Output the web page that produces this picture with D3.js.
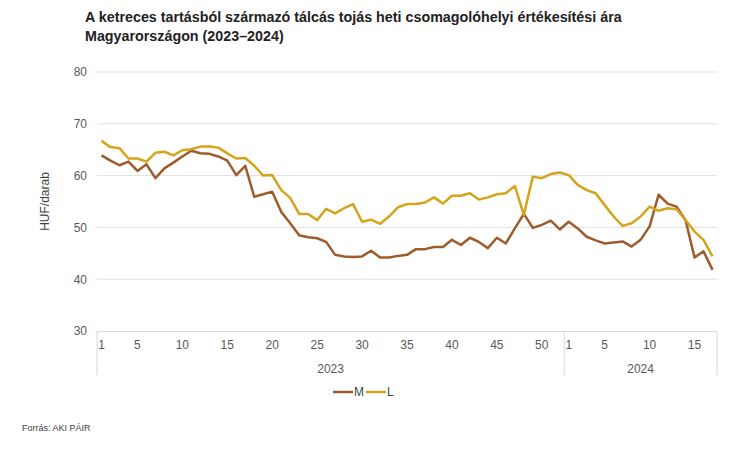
<!DOCTYPE html>
<html>
<head>
<meta charset="utf-8">
<script src="https://d3js.org/d3.v7.min.js"></script>
<style>
  body { margin: 0; background: #fff; }
  text { font-family: "Liberation Sans", Arial, sans-serif; }
</style>
</head>
<body>
<div id="chart"></div>
<script>

// weeks: 2023 has 52, 2024 shown up to week 17
var weeks2023 = d3.range(1, 53)
var weeks2024 = d3.range(1, 18)
var years = ["2023", "2024"]
var yTicks = [30, 40, 50, 60, 70, 80]
var weekTicks = [1, 5, 10, 15, 20, 25, 30, 35, 40, 45, 50]

// M size eggs (HUF/darab)
var valuesM = [
  63.9, 62.9, 62.0, 62.7, 60.9, 62.2, 59.5, 61.4, 62.5, 63.7,
  64.8, 64.3, 64.2, 63.7, 62.9, 60.1, 61.9, 55.9, 56.4, 56.9,
  53.0, 50.8, 48.5, 48.1, 47.9, 47.2, 44.7, 44.4, 44.3, 44.4,
  45.5, 44.2, 44.2, 44.5, 44.7, 45.8, 45.8, 46.2, 46.2, 47.6,
  46.6, 48.0, 47.2, 46.0, 48.0, 46.9, 49.8, 52.6, 49.9, 50.5,
  51.3, 49.6,
  51.1, 49.8, 48.2, 47.5, 46.9, 47.1, 47.3, 46.3, 47.6, 50.2,
  56.3, 54.6, 54.0, 51.4, 44.2, 45.4, 41.8
]

// L size eggs (HUF/darab)
var valuesL = [
  66.7, 65.5, 65.3, 63.3, 63.3, 62.7, 64.4, 64.6, 63.9, 64.9,
  65.1, 65.6, 65.6, 65.4, 64.3, 63.3, 63.4, 61.9, 60.0, 60.1,
  57.2, 55.7, 52.6, 52.6, 51.4, 53.6, 52.7, 53.7, 54.5, 51.1,
  51.5, 50.7, 52.1, 53.9, 54.5, 54.5, 54.8, 55.8, 54.6, 56.1,
  56.1, 56.6, 55.4, 55.8, 56.4, 56.6, 58.0, 52.4, 59.8, 59.5,
  60.3, 60.6,
  60.1, 58.2, 57.2, 56.6, 54.3, 52.1, 50.3, 50.8, 52.1, 54.0,
  53.2, 53.7, 53.5, 51.4, 49.2, 47.6, 44.4
]

var colorM = "#9e5c2c"
var colorL = "#d4a41c"

var width = 750, height = 457
var plot = {left: 97, right: 717, top: 72, bottom: 331}

var keys = weeks2023.map(function(w) { return "2023-" + w; })
  .concat(weeks2024.map(function(w) { return "2024-" + w; }))

var svg = d3.select("#chart")
  .append("svg")
    .attr("width", width)
    .attr("height", height)

// title
svg.append("text")
    .attr("x", 85).attr("y", 22)
    .style("font-size", "14.3px").style("font-weight", "bold").attr("fill", "#222")
    .text("A ketreces tartásból származó tálcás tojás heti csomagolóhelyi értékesítési ára")
svg.append("text")
    .attr("x", 85).attr("y", 41)
    .style("font-size", "14.3px").style("font-weight", "bold").attr("fill", "#222")
    .text("Magyarországon (2023–2024)")

var x = d3.scaleBand()
    .domain(keys)
    .range([plot.left, plot.right])

var y = d3.scaleLinear()
    .domain([30, 80])
    .range([plot.bottom, plot.top])

// gridlines
svg.append("g")
  .selectAll("line")
  .data(yTicks.slice(1))
  .enter().append("line")
    .attr("x1", plot.left).attr("x2", plot.right)
    .attr("y1", function(d) { return y(d); })
    .attr("y2", function(d) { return y(d); })
    .attr("stroke", "#e0e0e0")

// y axis labels
var yAxis = svg.append("g")
    .attr("transform", "translate(" + (plot.left - 10) + ",0)")
    .call(d3.axisLeft(y).tickValues(yTicks).tickSize(0).tickPadding(0))
yAxis.select(".domain").remove()
yAxis.selectAll("text").style("font-size", "12px").attr("fill", "#595959")

svg.append("text")
    .attr("transform", "translate(49," + ((plot.top + plot.bottom) / 2) + ")rotate(-90)")
    .attr("text-anchor", "middle")
    .style("font-size", "12px").attr("fill", "#404040")
    .text("HUF/darab")

// x axis: week numbers
var xAxis = svg.append("g")
    .attr("transform", "translate(0," + plot.bottom + ")")
    .call(d3.axisBottom(x)
      .tickValues(keys.filter(function(k) {
        var w = +k.split("-")[1];
        return weekTicks.indexOf(w) >= 0 && (k.slice(0, 4) == "2023" || w <= 15);
      }))
      .tickFormat(function(k) { return k.split("-")[1]; })
      .tickSize(0).tickPadding(9))
xAxis.select(".domain").attr("stroke", "#d9d9d9")
xAxis.selectAll("text").style("font-size", "12px").attr("fill", "#595959")

// year separators and labels
var yearStart = {"2023": x("2023-1"), "2024": x("2024-1")}
var yearEnd = {"2023": x("2024-1"), "2024": plot.right}
var seps = [plot.left, x("2024-1"), plot.right]
svg.append("g")
  .selectAll("line")
  .data(seps)
  .enter().append("line")
    .attr("x1", function(d) { return d; }).attr("x2", function(d) { return d; })
    .attr("y1", plot.bottom).attr("y2", plot.bottom + 44)
    .attr("stroke", "#d9d9d9")

svg.append("g")
  .selectAll("text")
  .data(years)
  .enter().append("text")
    .attr("x", function(d) { return (yearStart[d] + yearEnd[d]) / 2; })
    .attr("y", plot.bottom + 42)
    .attr("text-anchor", "middle")
    .style("font-size", "12px").attr("fill", "#595959")
    .text(function(d) { return d; })

// lines
var series = [
  {name: "M", values: valuesM, color: colorM},
  {name: "L", values: valuesL, color: colorL}
]

var line = d3.line()
    .x(function(d, i) { return x(keys[i]) + x.bandwidth() / 2; })
    .y(function(d) { return y(d); })

svg.append("g")
  .selectAll("path")
  .data(series)
  .enter().append("path")
    .attr("d", function(d) { return line(d.values); })
    .attr("fill", "none")
    .attr("stroke", function(d) { return d.color; })
    .attr("stroke-width", 2.5)
    .attr("stroke-linejoin", "round")

// legend
var legend = svg.append("g")
  .selectAll("g")
  .data(series)
  .enter().append("g")
    .attr("transform", function(d, i) { return "translate(" + (333 + i * 33) + ",392)"; })
legend.append("line")
    .attr("x1", 0).attr("x2", 20)
    .attr("stroke", function(d) { return d.color; })
    .attr("stroke-width", 2.5)
legend.append("text")
    .attr("x", 21).attr("y", 4)
    .style("font-size", "12px").attr("fill", "#404040")
    .text(function(d) { return d.name; })

// source
svg.append("text")
    .attr("x", 22).attr("y", 431)
    .style("font-size", "9px").attr("fill", "#404040")
    .text("Forrás: AKI PÁIR")

</script>
</body>
</html>
